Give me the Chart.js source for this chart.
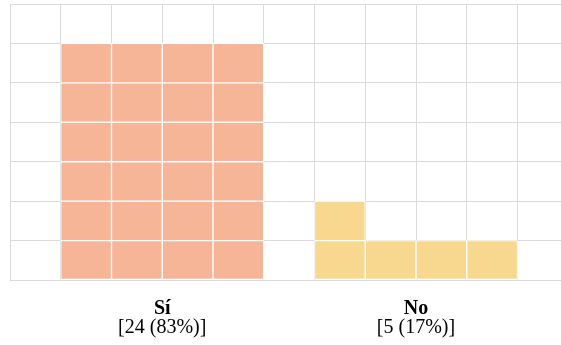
<!DOCTYPE html>
<html>
<head>
<meta charset="utf-8">
<script src="https://cdn.jsdelivr.net/npm/chart.js@4/dist/chart.umd.min.js"></script>
<style>
  html, body { margin: 0; padding: 0; background: #ffffff; }
  #wrap { width: 561px; height: 345px; position: relative; }
</style>
</head>
<body>
<div id="wrap"><canvas id="c"></canvas></div>
<script>
// ---- data ----
const categories = ['Sí', 'No'];
const counts = [24, 5];
const percents = [83, 17];
const columnsPerGroup = 4;   // waffle: each group fills 4 columns, bottom row first
const rowCount = 7;          // rows in the grid

// ---- styles ----
const palette = ['#F7B598', '#F8D88F'];
const gridColor = '#dadada';
const xMax = 10.857;         // grid continues past the right edge
const labelFont = '"Liberation Serif", "Times New Roman", serif';

function groupStart(g) { return 1 + g * (columnsPerGroup + 1); }
function groupCenter(g) { return groupStart(g) + columnsPerGroup / 2; }

const datasets = categories.map((cat, g) => {
  const cells = [];
  for (let i = 0; i < counts[g]; i++) {
    const col = groupStart(g) + (i % columnsPerGroup);
    const row = Math.floor(i / columnsPerGroup);
    cells.push({ x: col + 0.5, y: [row, row + 1] });
  }
  return {
    label: cat,
    data: cells,
    backgroundColor: palette[g],
    borderColor: '#ffffff',
    borderWidth: 1,
    borderSkipped: false,
    grouped: false,
    categoryPercentage: 1,
    barPercentage: 1
  };
});

const tickLabels = categories;
const countLabels = categories.map((c, g) => '[' + counts[g] + ' (' + percents[g] + '%)]');
const centers = categories.map((c, g) => groupCenter(g));

function labelAxis(labels, bold, padding, mirror) {
  return {
    type: 'linear',
    position: 'bottom',
    min: 0,
    max: xMax,
    offset: false,
    afterBuildTicks: (axis) => { axis.ticks = centers.map(v => ({ value: v })); },
    ticks: {
      callback: (v, i) => labels[i],
      color: '#000',
      font: { family: labelFont, size: 20, weight: bold ? 'bold' : 'normal', lineHeight: '17px' },
      padding: padding,
      mirror: mirror,
      maxRotation: 0,
      autoSkip: false
    },
    grid: { display: false, drawTicks: false, offset: false },
    border: { display: false }
  };
}

new Chart(document.getElementById('c'), {
  type: 'bar',
  data: { datasets },
  options: {
    responsive: true,
    maintainAspectRatio: false,
    animation: false,
    layout: { padding: { top: 4, left: 10, right: 0, bottom: 4 } },
    plugins: { legend: { display: false }, tooltip: { enabled: false } },
    scales: {
      x: {
        type: 'linear',
        position: 'bottom',
        min: 0,
        max: xMax,
        offset: false,
        ticks: { display: false, stepSize: 1, includeBounds: false },
        grid: { color: gridColor, drawTicks: false, lineWidth: 1, offset: false },
        border: { display: false }
      },
      names: labelAxis(tickLabels, true, 20.5, false),
      counts: labelAxis(countLabels, false, 1.5, true),
      y: {
        type: 'linear',
        min: 0,
        max: rowCount,
        ticks: { display: false, stepSize: 1 },
        grid: { color: gridColor, drawTicks: false, lineWidth: 1 },
        border: { display: false }
      }
    }
  }
});
</script>
</body>
</html>
